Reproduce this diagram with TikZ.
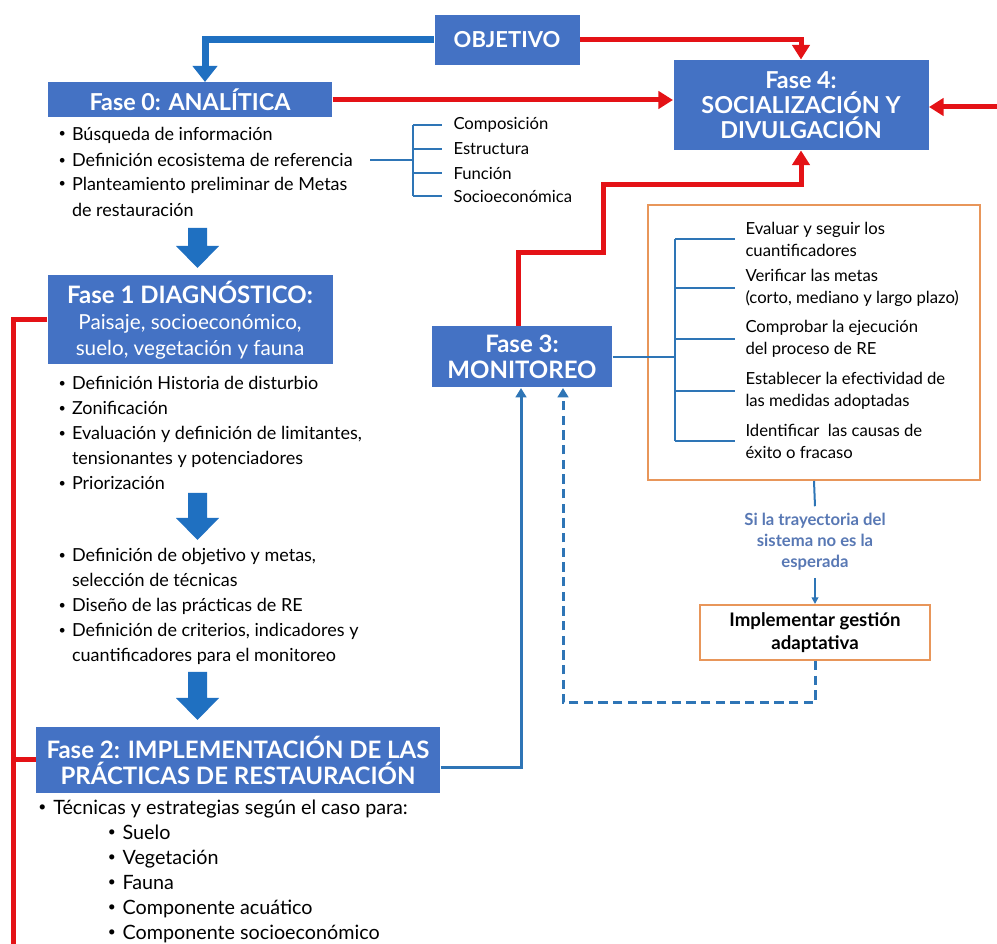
\documentclass[tikz,border=0pt]{standalone}
\usepackage{fontspec}
\setmainfont{Lato}
\usetikzlibrary{arrows.meta}

\definecolor{boxblue}{RGB}{68,114,196}
\definecolor{arrowblue}{RGB}{31,112,193}
\definecolor{lineblue}{RGB}{46,117,182}
\definecolor{redline}{RGB}{228,18,22}
\definecolor{boxorange}{RGB}{232,150,90}
\definecolor{condblue}{RGB}{88,120,180}

\newcommand{\blt}{\makebox[0.75em][l]{\raisebox{0.12em}{\scalebox{0.7}{\textbullet}}}}
\newcommand{\bltgap}{\hspace*{0.75em}}

\tikzset{every picture/.style={line width=0.75pt}}
\tikzset{
  fase/.style={fill=boxblue, text=white, align=center, inner sep=0pt, font=\bfseries\fontsize{18}{19.5}\selectfont},
  obox/.style={draw=boxorange, line width=1.5pt, fill=white, align=center, inner sep=0pt},
  listtext/.style={inner sep=0pt, align=left, font=\fontsize{13.5}{18.75}\selectfont},
  smalltext/.style={inner sep=0pt, align=left, font=\fontsize{12.5}{16.5}\selectfont},
  redarrow/.style={draw=redline, line width=3.75pt, -{Triangle[length=11pt,width=13pt]}},
  redpath/.style={draw=redline, line width=3.75pt},
  bigblue/.style={draw=arrowblue, line width=5.25pt, -{Triangle[length=12pt,width=18pt]}},
  bluearrow/.style={draw=lineblue, line width=2.25pt, -{Triangle[length=7pt,width=8pt]}},
  brline/.style={draw=lineblue, line width=1.5pt}
}

\begin{document}
\begin{tikzpicture}[x=0.75pt,y=0.75pt,yscale=-1,xscale=1]
\useasboundingbox (0,0) rectangle (997,944);

% phase boxes
\node[fase, minimum width=108.75pt, minimum height=37.5pt, font=\bfseries\fontsize{16.5}{19}\selectfont] (objetivo) at (507,40) {OBJETIVO};
\node[fase, minimum width=213pt, minimum height=26.25pt, font=\bfseries\fontsize{17.5}{19}\selectfont] (fase0) at (190,100) {Fase 0: ANALÍTICA};
\node[fase, minimum width=191.25pt, minimum height=67.5pt, font=\bfseries\fontsize{17.5}{18.75}\selectfont] (fase4) at (801,105) {Fase 4:\\SOCIALIZACIÓN Y\\DIVULGACIÓN};
\node[fase, minimum width=213.75pt, minimum height=66.75pt] (fase1) at (190,320) {Fase 1 DIAGNÓSTICO:\\{\mdseries\fontsize{15.5}{19.5}\selectfont Paisaje, socioeconómico,}\\{\mdseries\fontsize{15.5}{19.5}\selectfont suelo, vegetación y fauna}};
\node[fase, minimum width=135pt, minimum height=45.75pt] (fase3) at (522,357) {Fase 3:\\MONITOREO};
\node[fase, minimum width=303pt, minimum height=49.5pt] (fase2) at (238,760) {Fase 2: IMPLEMENTACIÓN DE LAS\\PRÁCTICAS DE RESTAURACIÓN};

% monitoring box and adaptive management
\node[obox, minimum width=249pt, minimum height=206.25pt] (monbox) at (814,342.5) {};
\node[obox, minimum width=172.5pt, minimum height=41.25pt, font=\bfseries\fontsize{14}{17}\selectfont] (gestion) at (815,632.5) {Implementar gestión\\adaptativa};
\node[inner sep=5pt, align=center, text=condblue, font=\bfseries\fontsize{12.5}{15.75}\selectfont] (cond) at (815,542) {Si la trayectoria del\\sistema no es la\\esperada};

% lists
\node[listtext, anchor=west] (a1) at (58,135) {\blt Búsqueda de información};
\node[listtext, anchor=west] (a2) at (58,160) {\blt Definición ecosistema de referencia};
\node[listtext, anchor=west] (a3) at (58,185) {\blt Planteamiento preliminar de Metas};
\node[listtext, anchor=west] (a4) at (58,210) {\bltgap de restauración};

\node[listtext, anchor=north west] (l1) at (58,376) {\blt Definición Historia de disturbio\\\blt Zonificación\\\blt Evaluación y definición de limitantes,\\\bltgap tensionantes y potenciadores\\\blt Priorización};
\node[listtext, anchor=north west] (l2) at (58,548) {\blt Definición de objetivo y metas,\\\bltgap selección de técnicas\\\blt Diseño de las prácticas de RE\\\blt Definición de criterios, indicadores y\\\bltgap cuantificadores para el monitoreo};
\node[listtext, anchor=north west, font=\fontsize{14.8}{18.75}\selectfont] (l3) at (38,799) {\blt Técnicas y estrategias según el caso para:\\\hspace*{52pt}\blt Suelo\\\hspace*{52pt}\blt Vegetación\\\hspace*{52pt}\blt Fauna\\\hspace*{52pt}\blt Componente acuático\\\hspace*{52pt}\blt Componente socioeconómico};

% ecosystem attributes
\node[smalltext, anchor=west] (c1) at (453,125) {Composición};
\node[smalltext, anchor=west] (c2) at (453,149) {Estructura};
\node[smalltext, anchor=west] (c3) at (453,173) {Función};
\node[smalltext, anchor=west] (c4) at (453,196) {Socioeconómica};
\coordinate (cbr) at (413,160);

% monitoring tasks
\node[smalltext, anchor=west] (m1) at (745,239) {Evaluar y seguir los\\cuantificadores};
\node[smalltext, anchor=west] (m2) at (745,288) {Verificar las metas\\(corto, mediano y largo plazo)};
\node[smalltext, anchor=west] (m3) at (745,339) {Comprobar la ejecución\\del proceso de RE};
\node[smalltext, anchor=west] (m4) at (745,391) {Establecer la efectividad de\\las medidas adoptadas};
\node[smalltext, anchor=west] (m5) at (745,441) {Identificar\ \ las causas de\\éxito o fracaso};
\coordinate (mbr) at (675,358);

% block arrows
\foreach \y/\h in {228/40,493/47,672/48}
  \fill[arrowblue] (188,\y) -- (207,\y) -- (207,\y+\h-22) -- (219,\y+\h-22) -- (197.5,\y+\h) -- (176,\y+\h-22) -- (188,\y+\h-22) -- cycle;

% red connectors
\coordinate (redstep1) at (603,253);
\coordinate (redstep2) at (603,185);
\coordinate (redend) at (13,944);
\coordinate (redin) at (997,107);
\draw[redarrow] (objetivo.east) -| (fase4.north);
\draw[redarrow] (fase0.east) -- (fase0.east -| fase4.west);
\draw[redarrow] (redin) -- (redin -| fase4.east);
\draw[redarrow] ([xshift=-3pt]fase3.north) |- (redstep1) -- (redstep2) -| (fase4.south);
\draw[redpath] (fase1.west) -| (redend);
\draw[redpath] (fase2.west) -- (fase2.west -| redend);

% blue connectors
\draw[bigblue] (objetivo.west) -| ([xshift=11.25pt]fase0.north);
\draw[bluearrow] ([yshift=6pt]fase2.east) -| ([xshift=-0.75pt]fase3.south);
\draw[bluearrow, dash pattern=on 7pt off 4pt] (gestion.south) -- ++(0,42) -| ([xshift=30.75pt]fase3.south);
\draw[brline] (monbox.south) -- (cond.north);
\draw[draw=lineblue, line width=1.5pt, -{Triangle[length=5pt,width=5pt]}] (cond.south) -- (gestion.north);

% brackets
\draw[brline] ([xshift=13pt]a2.east) -- (cbr);
\draw[brline] (c1.west -| cbr) -- (c4.west -| cbr);
\foreach \c in {c1,c2,c3,c4}
  \draw[brline] (\c.west -| cbr) -- ([xshift=-8pt]\c.west);
\draw[brline] (fase3.east) -- (fase3.east -| mbr);
\draw[brline] (m1.west -| mbr) -- (m5.west -| mbr);
\foreach \m in {m1,m2,m3,m4,m5}
  \draw[brline] (\m.west -| mbr) -- ([xshift=-7.5pt]\m.west);

\end{tikzpicture}
\end{document}
